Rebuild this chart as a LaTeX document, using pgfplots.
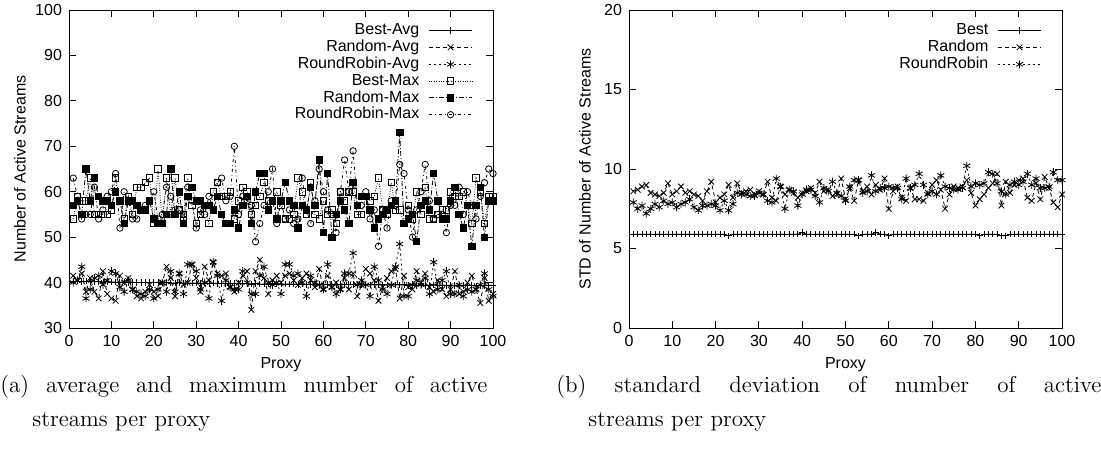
\documentclass[border=0pt]{standalone}
\usepackage{fontspec}
\newfontfamily\hel{Liberation Sans}
\usepackage{pgfplots}
\usepackage{pgfplotstable}
\pgfplotsset{compat=1.18}

% per proxy: best/random/roundrobin average and maximum
\pgfplotstableread{
x bavg ravg rravg bmax rmax rrmax
1 40.3 41.5 40 54 57 63
2 40.3 40.5 40.5 59 58 59
3 40.2 42 43.5 58 55 54
4 40.3 38 36.5 58 65 55
5 40.2 41 38.5 63 58 55
6 40.2 38 41 55 63 61
7 40.2 36.5 41.5 55 59 54
8 40.1 42.5 39.5 55 58 56
9 40.2 37.5 40.5 55 58 59
10 40.1 36.5 42.5 56 57 60
11 40.1 36 42 63 60 64
12 40.1 41.5 39 58 58 52
13 40.1 40 38 54 53 60
14 40.0 41 40.5 59 58 58
15 40.1 38.5 38.5 55 58 54
16 40.0 37 38 61 57 54
17 40.0 36.5 37.5 61 56 56
18 40.0 38 37 62 56 57
19 40.0 39.5 38.5 63 58 58
20 40.0 38 36.5 53 54 60
21 40.0 37 38.5 65 53 54
22 39.9 40 40 53 53 55
23 40.0 43.5 38 63 55 61
24 39.9 41 42.5 55 65 59
25 39.9 37 38 63 55 56
26 40.0 42 42 56 60 56
27 39.9 39.5 37.5 55 53 54
28 39.9 40 44 63 59 61
29 39.9 44 44 57 61 58
30 39.9 41 42.5 53 58 52
31 39.9 38 38.5 55 58 56
32 39.9 43.5 40 57 57 55
33 39.8 40.5 36.5 53 57 59
34 39.9 44.5 44.5 60 56 56
35 39.8 42 41.5 62 59 62
36 39.8 41.5 36 59 55 63
37 39.8 42 40.5 59 53 58
38 39.8 39 39 60 53 59
39 39.8 38 38.5 54 56 70
40 39.8 40 38.5 58 52 55
41 39.8 41.5 42.5 61 57 59
42 39.8 42.5 40 60 59 58
43 39.7 34 37.5 55 53 57
44 39.8 42.5 37.5 57 60 49
45 39.7 45 41.5 59 64 53
46 39.7 41 43.5 62 64 57
47 39.7 37.5 40 58 56 60
48 39.8 40.5 39.5 58 58 65
49 39.7 41.5 40 60 54 53
50 39.7 40 37.5 57 58 58
51 39.7 41.5 44 54 62 54
52 39.7 42 44 54 58 56
53 39.7 40.5 41.5 55 57 53
54 39.6 39.5 42 63 52 54
55 39.7 41 40 60 57 63
56 39.6 42 37 55 56 56
57 39.6 40.5 41.5 62 61 53
58 39.7 39 40 55 57 58
59 39.6 43 39.5 54 67 65
60 39.6 38.5 38.5 58 51 60
61 39.6 41.5 44 55 64 56
62 39.6 39 39 56 50 55
63 39.6 40 37.5 53 55 51
64 39.6 38.5 38.5 60 58 60
65 39.5 41 42 58 56 67
66 39.6 38.5 42 60 53 60
67 39.6 42 46.5 60 62 69
68 39.5 37 39.5 55 57 57
69 39.6 39.5 40.5 55 59 57
70 39.5 43 39.5 59 59 60
71 39.5 42 37 58 56 54
72 39.5 40.5 43.5 59 52 56
73 39.5 36 40.5 63 54 48
74 39.5 39 38.5 56 55 56
75 39.5 41 37.5 55 56 52
76 39.5 42.5 39.5 62 57 58
77 39.5 43 43.5 56 58 57
78 39.5 36.5 48.5 56 73 66
79 39.5 41.5 37 53 53 64
80 39.4 39 37 57 54 56
81 39.5 38.5 39.5 54 55 50
82 39.4 42.5 40.5 60 49 56
83 39.5 40 39.5 55 57 60
84 39.4 42 41 61 58 66
85 39.4 39 37.5 54 56 58
86 39.5 38 44.5 54 64 54
87 39.4 40.5 38.5 55 58 55
88 39.4 38.5 40.5 56 54 55
89 39.4 37 42.5 56 54 51
90 39.4 38.5 37.5 60 58 57
91 39.4 42.5 37.5 59 61 57
92 39.4 37.5 39.5 59 55 61
93 39.4 38 37 60 52 55
94 39.4 40 38.5 57 57 60
95 39.4 41.5 38 53 48 57
96 39.3 38.5 38.5 63 57 54
97 39.4 35.5 39.5 60 61 59
98 39.4 41 42 53 50 62
99 39.4 36 38.5 59 58 65
100 39.4 37.5 37 59 58 64
}\avgtab

% per proxy: standard deviation
\pgfplotstableread{
x best rand rr
1 5.9 8.6 7.9
2 5.9 8.7 7.5
3 5.9 8.9 7.7
4 5.9 9.0 7.2
5 5.9 8.5 7.5
6 5.9 8.4 7.8
7 5.9 8.3 7.6
8 5.9 8.5 8.0
9 5.9 9.1 7.8
10 5.9 8.4 7.9
11 5.9 8.6 7.6
12 5.9 8.9 7.8
13 5.9 8.5 7.9
14 5.9 8.6 8.1
15 5.9 8.4 7.6
16 5.9 8.3 7.4
17 5.9 8.0 7.7
18 5.9 8.6 7.7
19 5.9 9.2 7.8
20 5.9 7.9 7.7
21 5.9 8.2 7.4
22 5.9 8.4 8.0
23 5.8 9.0 7.4
24 5.9 8.2 7.8
25 5.9 9.1 8.5
26 5.9 8.5 8.4
27 5.9 8.6 8.4
28 5.9 8.7 8.3
29 5.9 8.4 8.3
30 5.9 8.6 8.5
31 5.9 8.4 8.4
32 5.9 9.2 8.0
33 5.9 8.2 7.9
34 5.9 8.0 9.4
35 5.9 8.9 8.9
36 5.9 8.4 7.5
37 5.9 8.7 8.7
38 5.9 8.5 8.6
39 5.9 8.2 7.7
40 6.0 8.5 8.4
41 5.9 8.6 8.7
42 5.9 8.8 8.7
43 5.9 8.5 8.3
44 5.9 9.2 7.9
45 5.9 8.6 8.8
46 5.9 8.7 8.6
47 5.9 8.3 9.2
48 5.9 8.4 8.5
49 5.9 9.4 8.3
50 5.9 8.1 8.0
51 5.9 8.8 8.9
52 5.9 8.0 9.3
53 5.8 9.3 9.3
54 5.9 8.6 8.5
55 5.9 8.9 8.6
56 5.9 8.4 9.6
57 6.0 9.0 8.6
58 5.9 8.7 8.8
59 5.9 9.4 8.8
60 5.8 7.5 8.9
61 5.9 8.6 8.8
62 5.9 8.9 8.8
63 5.9 8.2 8.1
64 5.9 8.0 9.4
65 5.9 8.8 8.8
66 5.9 8.1 9.0
67 5.9 8.1 9.7
68 5.9 8.0 9.0
69 5.9 8.5 8.4
70 5.9 9.0 8.6
71 5.9 9.3 8.4
72 5.9 8.7 9.6
73 5.9 7.5 8.9
74 5.9 8.4 8.8
75 5.9 8.9 8.7
76 5.9 8.8 8.7
77 5.9 8.9 8.8
78 5.9 9.3 10.2
79 5.9 8.5 8.9
80 5.9 7.7 9.1
81 5.8 8.1 9.0
82 5.9 8.4 9.1
83 5.9 8.8 9.8
84 5.9 9.1 9.7
85 5.9 9.7 9.1
86 5.8 7.7 8.6
87 5.8 9.2 8.4
88 5.9 8.5 9.0
89 5.9 9.0 9.2
90 5.9 9.3 9.0
91 5.9 9.4 9.2
92 5.9 8.2 9.7
93 5.9 8.0 9.0
94 5.9 9.1 9.4
95 5.9 8.1 8.8
96 5.9 9.5 8.8
97 5.9 8.8 8.9
98 5.9 7.9 9.8
99 5.9 7.6 9.3
100 5.9 8.4 9.3
}\stdtab

\pgfplotsset{
  gp/.style={
    scale only axis, anchor=north west,
    xmin=0, xmax=100, xtick={0,10,...,100},
    tick align=inside, major tick length=3.5pt,
    axis line style={line width=0.5pt},
    every tick/.style={black, line width=0.5pt},
    tick label style={font=\hel\fontsize{8}{9}\selectfont},
    /pgf/number format/assume math mode=true,
    xlabel={Proxy},
    every axis x label/.style={at={(axis description cs:0.5,-0.115)}, anchor=center,
      font=\hel\fontsize{8}{9}\selectfont},
    legend cell align=right, legend plot pos=right,
    legend style={at={(1,1)}, anchor=north east, draw=none, fill=none,
      font=\hel\fontsize{8}{9}\selectfont, nodes={inner sep=0.6pt},
      column sep=4pt, xshift=-7pt, yshift=-4pt},
    legend image code/.code={\draw[mark repeat=2,mark phase=2,#1]
      plot coordinates {(0cm,0cm) (0.38cm,0cm) (0.76cm,0cm)};},
    every axis plot/.append style={black, line width=0.4pt},
  },
  sBest/.style={solid, mark=+, mark size=1.6pt, mark options={solid}},
  sRand/.style={dash pattern=on 2pt off 1.5pt, mark=x, mark size=2pt, mark options={solid}},
  sRR/.style={dash pattern=on 1pt off 1.5pt, mark=asterisk, mark size=2pt, mark options={solid}},
}

\begin{document}
\begin{tikzpicture}
\path[use as bounding box] (0,0) rectangle (550.5pt,-226pt);

\begin{axis}[gp, at={(34.5pt,-5pt)}, width=212pt, height=159pt,
  ymin=30, ymax=100, ytick={30,40,...,100},
  ylabel={Number of Active Streams},
  every axis y label/.style={at={(axis description cs:-0.116,0.5)}, rotate=90, anchor=center,
    font=\hel\fontsize{8}{9}\selectfont}]
\addplot[sBest] table[x=x, y=bavg] {\avgtab};
\addplot[sRand] table[x=x, y=ravg] {\avgtab};
\addplot[sRR] table[x=x, y=rravg] {\avgtab};
\addplot[dash pattern=on 0.4pt off 0.8pt, mark=square, mark size=1.6pt, mark options={solid}]
  table[x=x, y=bmax] {\avgtab};
\addplot[dash pattern=on 2.5pt off 1pt on 0.5pt off 1pt, mark=square*, mark size=1.6pt,
  mark options={solid, fill=black}] table[x=x, y=rmax] {\avgtab};
\addplot[dash pattern=on 1.5pt off 1.5pt on 0.4pt off 1.5pt, mark=o, mark size=1.6pt,
  mark options={solid}] table[x=x, y=rrmax] {\avgtab};
\legend{Best-Avg, Random-Avg, RoundRobin-Avg, Best-Max, Random-Max, RoundRobin-Max}
\end{axis}

\begin{axis}[gp, at={(314.5pt,-5pt)}, width=216.5pt, height=159pt,
  ymin=0, ymax=20, ytick={0,5,...,20},
  ylabel={STD of Number of Active Streams},
  every axis y label/.style={at={(axis description cs:-0.102,0.5)}, rotate=90, anchor=center,
    font=\hel\fontsize{8}{9}\selectfont}]
\addplot[sBest] table[x=x, y=best] {\stdtab};
\addplot[sRand] table[x=x, y=rand] {\stdtab};
\addplot[sRR] table[x=x, y=rr] {\stdtab};
\legend{Best, Random, RoundRobin}
\end{axis}

\node[anchor=base west, inner sep=0] at (0pt,-196pt)
  {\parbox[t]{243.5pt}{\fontsize{11.5}{17}\selectfont
   (a) average and maximum number of active\linebreak streams per proxy\hangindent=16pt\hangafter=1\par}};
\node[anchor=base west, inner sep=0] at (278pt,-196pt)
  {\parbox[t]{272.5pt}{\fontsize{11.5}{17}\selectfont
   (b) standard deviation of number of active\linebreak streams per proxy\hangindent=16pt\hangafter=1\par}};
\end{tikzpicture}
\end{document}
